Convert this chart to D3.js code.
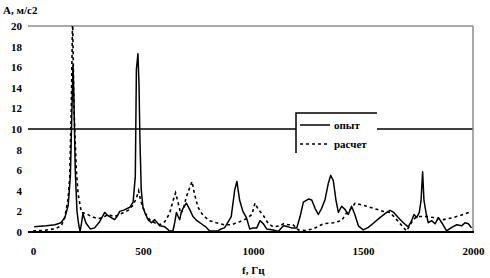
<!DOCTYPE html>
<html><head><meta charset="utf-8">
<script src="https://cdn.jsdelivr.net/npm/d3@7"></script>
<style>body{margin:0;background:#fff}svg{display:block}text{font-family:"Liberation Serif","Times New Roman",serif;font-weight:bold;font-size:11px;fill:#000}</style>
</head><body><svg id="c" width="490" height="278"></svg>
<script>
const yTicks = [0,2,4,6,8,10,12,14,16,18,20];
const xTicks = [0,500,1000,1500,2000];
const seriesNames = ["опыт","расчет"];
const yTitle = "A, м/с2";
const xTitle = "f, Гц";
// опыт (experiment)
const expF = [5,60,100,127,145,160,170,176,182,186,192,200,207,214,220,227,240,260,280,303,326,340,356,371,385,394,415,440,455,465,470,477,482,486,492,500,510,523,538,553,576,599,621,636,644,652,660,667,674,682,697,712,727,745,765,785,803,841,855,870,879,901,917,927,939,954,970,985,1000,1017,1032,1047,1062,1092,1115,1138,1160,1175,1199,1214,1229,1252,1267,1282,1297,1312,1327,1342,1353,1365,1377,1388,1403,1418,1433,1448,1463,1479,1501,1524,1547,1577,1608,1623,1640,1660,1683,1706,1721,1732,1744,1756,1764,1771,1777,1787,1797,1812,1828,1843,1858,1880,1903,1926,1948,1964,1979,1993];
const expV = [0.5,0.6,0.7,0.9,1.4,2.6,5.5,11,16.2,13,6,2,0.8,0.05,0.8,1.8,0.9,0.3,0.4,1.0,1.9,1.6,1.4,1.2,1.6,2.0,2.15,2.4,2.9,5.4,15.8,17.3,14.2,9,4.1,2.4,1.8,1.2,0.9,1.2,0.6,0.5,0.1,0.1,0.9,1.9,1.5,1.2,1.9,2.3,2.8,2.2,1.5,1.1,0.8,0.5,0.1,0.1,0.3,0.4,0.7,1.5,4.1,4.9,3.1,2.0,1.4,0.3,0.4,0.4,1.1,0.8,0.3,0.2,0.05,0.6,0.5,0.4,0.4,1.5,2.9,3.2,3.1,2.3,1.7,2.3,3.1,4.7,5.5,5.0,3.1,1.9,2.5,2.2,1.7,2.5,1.7,0.6,0.2,0.45,0.85,1.4,1.9,2.1,1.9,1.4,0.9,0.5,1.1,1.7,1.4,1.9,3.1,5.85,3.1,1.8,0.9,1.1,0.8,1.4,0.9,0.1,0.45,0.7,0.6,0.9,0.8,0.4];
// расчет (calculation)
const calcF = [0,45,98,129,144,159,167,174,180,186,197,205,220,241,265,295,318,341,370,402,432,455,470,480,490,508,530,553,576,599,621,636,648,660,671,683,697,712,723,735,750,773,803,833,871,901,939,970,995,1009,1024,1047,1070,1092,1123,1138,1160,1182,1206,1236,1274,1320,1365,1403,1426,1448,1464,1517,1562,1592,1623,1653,1683,1698,1729,1744,1790,1820,1865,1910,1956,1993];
const calcV = [0.1,0.15,0.3,0.6,1.4,3.1,5.3,12,21,12,6,3.7,1.9,1.8,1.5,1.3,1.4,1.7,1.5,1.8,2.1,2.6,3.3,4.0,3.0,1.9,1.2,0.9,0.7,1.0,1.8,3.0,3.8,2.8,1.8,2.2,3.4,4.3,4.9,3.6,2.4,1.6,1.1,0.9,0.7,0.7,1.0,1.3,1.7,2.8,2.2,1.6,0.8,0.5,0.6,0.8,0.7,0.7,0.2,0.15,0.3,0.8,0.9,1.1,1.9,2.3,2.8,2.5,2.2,2.0,1.9,1.2,0.45,0.1,1.2,1.5,1.5,1.4,1.2,1.4,1.7,2.0];

const svg = d3.select("#c");
const x = d3.scaleLinear().domain([0,2000]).range([33,473]);
const y = d3.scaleLinear().domain([0,20]).range([232,26]);

svg.append("defs").append("clipPath").attr("id","clip")
  .append("rect").attr("x",28).attr("y",y(20)).attr("width",446).attr("height",y(0)-y(20));

// gridlines
const gridC = {20:"#8c8c8c",10:"#000",0:"#000"};
const gridW = {20:1.5,10:1.5,0:2};
[20,10].forEach(v=>{
  svg.append("line").attr("x1",28).attr("x2",473).attr("y1",y(v)).attr("y2",y(v))
    .attr("stroke",gridC[v]).attr("stroke-width",gridW[v]);
});
svg.append("line").attr("x1",473).attr("x2",473).attr("y1",y(20)).attr("y2",y(0))
  .attr("stroke","#8c8c8c").attr("stroke-width",1.5);

// y axis
const ya = svg.append("g").attr("transform","translate(28,0)")
  .call(d3.axisLeft(y).tickValues(yTicks).tickSize(0).tickPadding(6));
ya.select(".domain").remove();
ya.selectAll("text").attr("font-size",11).attr("font-family",null);

// x axis
const xa = svg.append("g").attr("transform","translate(0,"+y(0)+")")
  .call(d3.axisBottom(x).tickValues(xTicks).tickSize(0).tickPadding(15).tickFormat(d3.format("d")));
xa.select(".domain").remove();
xa.selectAll("text").attr("font-size",11).attr("font-family",null);

const line = (F,V)=>d3.line().x((d,i)=>x(F[i])).y((d,i)=>y(V[i]))(F);
const g = svg.append("g").attr("clip-path","url(#clip)");
g.append("path").attr("d",line(calcF,calcV)).attr("fill","none").attr("stroke","#000")
  .attr("stroke-width",1.6).attr("stroke-dasharray","3,3");
g.append("path").attr("d",line(expF,expV)).attr("fill","none").attr("stroke","#000")
  .attr("stroke-width",1.5).attr("stroke-linejoin","round");

// baseline
svg.append("line").attr("x1",28).attr("x2",474).attr("y1",y(0)).attr("y2",y(0))
  .attr("stroke","#000").attr("stroke-width",2);

// titles
svg.append("text").attr("x",3).attr("y",14).text(yTitle);
svg.append("text").attr("x",242).attr("y",274).text(xTitle);

// legend
const lg = svg.append("g");
lg.append("rect").attr("x",296).attr("y",113).attr("width",81).attr("height",40).attr("fill","#fff");
lg.append("path").attr("d","M296,153V113H377").attr("fill","none").attr("stroke","#000").attr("stroke-width",1.5);
const lsty = [null,"3,3"];
seriesNames.forEach((n,i)=>{
  const yy = 125 + i*19;
  lg.append("line").attr("x1",300).attr("x2",330).attr("y1",yy).attr("y2",yy)
    .attr("stroke","#000").attr("stroke-width",1.5).attr("stroke-dasharray",lsty[i]);
  lg.append("text").attr("x",334).attr("y",yy+4).text(n);
});
</script></body></html>
